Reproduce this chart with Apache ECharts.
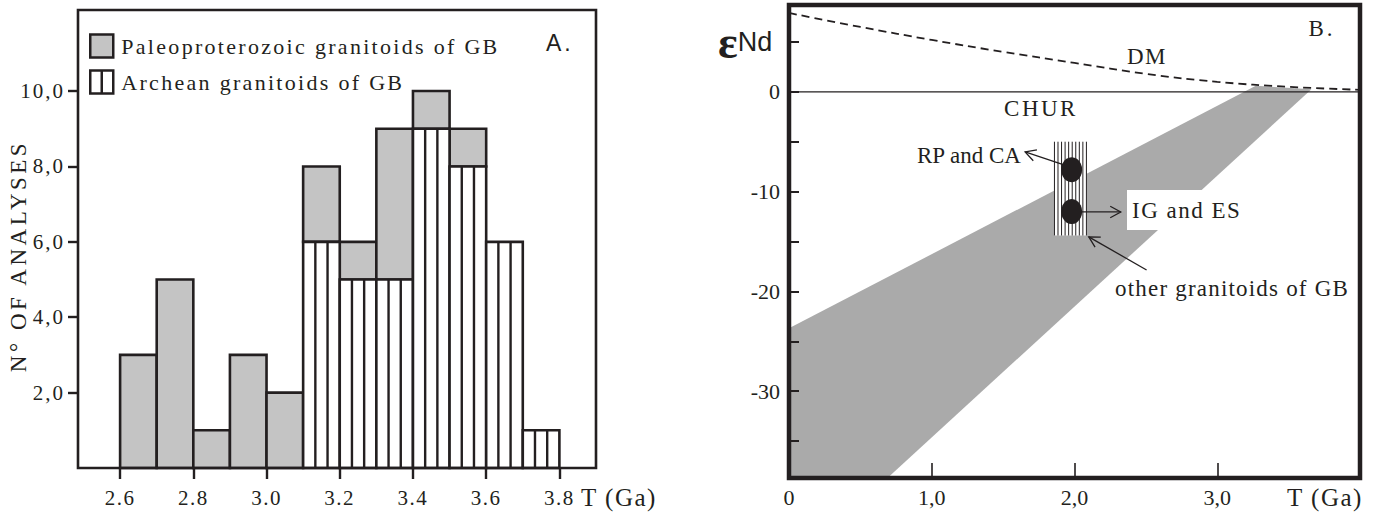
<!DOCTYPE html>
<html>
<head>
<meta charset="utf-8">
<title>GB granitoids: age histogram and eNd evolution</title>
<script src="https://cdn.jsdelivr.net/npm/echarts@6.0.0/dist/echarts.min.js"></script>
<style>
  html, body { margin: 0; padding: 0; background: #fff; }
  #main { width: 1375px; height: 513px; }
  #main text { font-family: 'Liberation Serif', serif !important; }
  #main text[style*="Sans"] { font-family: 'Liberation Sans', sans-serif !important; }
  /* the original figure is typeset with letter spacing; a dummy family name marks how much */
  #main text[style*="ls12"] { letter-spacing: 1.2px; }
  #main text[style*="ls15"] { letter-spacing: 1.5px; }
  #main text[style*="ls20"] { letter-spacing: 2px; }
  #main text[style*="ls23"] { letter-spacing: 2.3px; }
  #main text[style*="ls25"] { letter-spacing: 2.5px; }
  #main text[style*="ls30"] { letter-spacing: 3px; }
  #main text[style*="ls35"] { letter-spacing: 3.5px; }
</style>
</head>
<body>
<div id="main"></div>
<script>
// ---------- A. histogram of ages ----------
var binWidth = 0.1;
var binStart = [2.6, 2.7, 2.8, 2.9, 3.0, 3.1, 3.2, 3.3, 3.4, 3.5, 3.6, 3.7];
var paleoCounts = [3, 5, 1, 3, 2, 2, 1, 4, 1, 1, 0, 0];
var archeanCounts = [0, 0, 0, 0, 0, 6, 5, 5, 9, 8, 6, 1];
var countTicks = [2, 4, 6, 8, 10];
var ageTicksA = [2.6, 2.8, 3.0, 3.2, 3.4, 3.6, 3.8];

// ---------- B. eNd versus T ----------
var dmAge = [0, 0.5, 1.0, 1.5, 2.0, 2.5, 3.0, 3.5, 4.0];
var dmEps = [7.9, 6.5, 5.2, 4.0, 2.9, 1.8, 1.0, 0.5, 0.2];
var churAge = [0, 4];
var churEps = [0, 0];
var bandAge = [0, 3.27, 3.66, 0.69, 0];
var bandEps = [-23.7, 0.6, 0.25, -38.7, -38.7];
var columnAge = [1.856, 2.087];
var columnEps = [-5.0, -14.4];
var dotAge = [1.98, 1.98];
var dotEps = [-7.8, -12.0];
// pointer arrows: [fromAge, fromEps, toAge, toEps]
var arrows = [
  [1.926, -7.32, 1.654, -6.02],
  [2.052, -12.04, 2.324, -12.04],
  [2.505, -17.85, 2.10, -14.54]
];
var epsTicks = [-35, -30, -25, -20, -15, -10, -5, 0, 5];
var epsLabels = [-30, -20, -10, 0];
var ageTicksB = [1, 2, 3];
var ageLabelsB = [0, 1, 2, 3];

var INK = '#231f20';
var GRAY_A = '#c4c4c4';
var GRAY_B = '#aaaaaa';
var SERIF = 'Liberation Serif';

function serif(mark) { return mark ? SERIF + ', ' + mark : SERIF; }
function comma(v) { return v.toFixed(1).replace('.', ','); }

var chart = echarts.init(document.getElementById('main'), null, { renderer: 'svg' });

var option = {
  animation: false,
  backgroundColor: '#fff',
  grid: [
    { left: 78, top: 10, width: 518, height: 458, show: true, z: 5,
      backgroundColor: 'transparent', borderColor: INK, borderWidth: 2.6 },
    { left: 789, top: 5, width: 571, height: 473, show: true, z: 5,
      backgroundColor: 'transparent', borderColor: INK, borderWidth: 4.5 }
  ],
  legend: {
    left: 89, top: 31, orient: 'vertical', padding: 0,
    itemWidth: 23, itemHeight: 23, itemGap: 6,
    selectedMode: false,
    textStyle: { color: INK, fontSize: 22, lineHeight: 22, fontFamily: serif('ls23'), padding: [8, 0, 0, 3] },
    data: [
      { name: 'Paleoproterozoic granitoids of GB', icon: 'rect',
        itemStyle: { color: GRAY_A, borderColor: INK, borderWidth: 2.5 } },
      { name: 'Archean granitoids of GB', icon: 'path://M0 0H24V24H0ZM12 0V24',
        itemStyle: { color: '#fff', borderColor: INK, borderWidth: 2.5 } }
    ]
  },
  xAxis: [
    { type: 'value', gridIndex: 0, min: 2.485, max: 3.9, z: 6,
      axisLine: { show: false, onZero: false }, splitLine: { show: false },
      axisTick: { customValues: ageTicksA, length: 11, lineStyle: { color: INK, width: 2.4 } },
      axisLabel: { customValues: ageTicksA, margin: 19, color: INK, fontSize: 21, fontFamily: serif('ls15'),
        formatter: function (v) { return v.toFixed(1); } } },
    { type: 'value', gridIndex: 1, min: 0, max: 4, z: 6,
      axisLine: { show: false, onZero: false }, splitLine: { show: false },
      axisTick: { customValues: ageTicksB, inside: true, length: 15, lineStyle: { color: INK, width: 1.6 } },
      axisLabel: { customValues: ageLabelsB, margin: 8, color: INK, fontSize: 22, fontFamily: serif(),
        formatter: function (v) { return v === 0 ? '0' : comma(v); } } }
  ],
  yAxis: [
    { type: 'value', gridIndex: 0, min: 0, max: 12.15, z: 6,
      axisLine: { show: false, onZero: false }, splitLine: { show: false },
      axisTick: { customValues: countTicks, length: 10, lineStyle: { color: INK, width: 2.4 } },
      axisLabel: { customValues: countTicks, margin: 13, color: INK, fontSize: 21, fontFamily: serif('ls20'),
        formatter: comma } },
    { type: 'value', gridIndex: 1, min: -38.7, max: 8.7, z: 6,
      axisLine: { show: false, onZero: false }, splitLine: { show: false },
      axisTick: { customValues: epsTicks, inside: true, length: 10, lineStyle: { color: INK, width: 2 } },
      axisLabel: { customValues: epsLabels, margin: 9, color: INK, fontSize: 22, fontFamily: serif(),
        formatter: function (v) { return String(v); } } }
  ],
  series: [
    // Paleoproterozoic part, stacked on top of the Archean part
    {
      name: 'Paleoproterozoic granitoids of GB',
      type: 'custom', xAxisIndex: 0, yAxisIndex: 0, z: 2,
      data: binStart.map(function (b, i) { return [b, archeanCounts[i], archeanCounts[i] + paleoCounts[i]]; }),
      renderItem: function (params, api) {
        var lo = api.value(1), hi = api.value(2);
        if (hi <= lo) return null;
        var a = api.coord([api.value(0), hi]);
        var b = api.coord([api.value(0) + binWidth, lo]);
        return {
          type: 'rect',
          shape: { x: a[0], y: a[1], width: b[0] - a[0], height: b[1] - a[1] },
          style: { fill: GRAY_A, stroke: INK, lineWidth: 2.6 }
        };
      }
    },
    // Archean part, white with vertical hatching
    {
      name: 'Archean granitoids of GB',
      type: 'custom', xAxisIndex: 0, yAxisIndex: 0, z: 2,
      data: binStart.map(function (b, i) { return [b, archeanCounts[i]]; }),
      renderItem: function (params, api) {
        var n = api.value(1);
        if (!n) return null;
        var a = api.coord([api.value(0), n]);
        var b = api.coord([api.value(0) + binWidth, 0]);
        var w = b[0] - a[0];
        var kids = [{
          type: 'rect',
          shape: { x: a[0], y: a[1], width: w, height: b[1] - a[1] },
          style: { fill: '#fff', stroke: INK, lineWidth: 2.6 }
        }];
        for (var k = 1; k < 3; k++) {
          var x = a[0] + w * k / 3;
          kids.push({ type: 'line', shape: { x1: x, y1: a[1], x2: x, y2: b[1] },
            style: { stroke: INK, lineWidth: 2.4 } });
        }
        return { type: 'group', children: kids };
      }
    },
    // grey field of the granitoid evolution lines
    {
      type: 'custom', xAxisIndex: 1, yAxisIndex: 1, z: 1, silent: true,
      data: [[0]],
      renderItem: function (params, api) {
        var pts = bandAge.map(function (t, i) { return api.coord([t, bandEps[i]]); });
        return { type: 'polygon', shape: { points: pts }, style: { fill: GRAY_B } };
      }
    },
    {
      name: 'CHUR', type: 'line', xAxisIndex: 1, yAxisIndex: 1, z: 3, symbol: 'none',
      data: churAge.map(function (t, i) { return [t, churEps[i]]; }),
      lineStyle: { color: INK, width: 1.3 }
    },
    {
      name: 'DM', type: 'line', xAxisIndex: 1, yAxisIndex: 1, z: 3, symbol: 'none', smooth: 0.4,
      data: dmAge.map(function (t, i) { return [t, dmEps[i]]; }),
      lineStyle: { color: INK, width: 1.8, type: [8, 5] }
    },
    // hatched column of the studied samples
    {
      type: 'custom', xAxisIndex: 1, yAxisIndex: 1, z: 3, silent: true,
      data: [[0]],
      renderItem: function (params, api) {
        var a = api.coord([columnAge[0], columnEps[0]]);
        var b = api.coord([columnAge[1], columnEps[1]]);
        var kids = [{ type: 'rect', shape: { x: a[0], y: a[1], width: b[0] - a[0], height: b[1] - a[1] },
          style: { fill: '#fff' } }];
        var n = 9;
        for (var k = 0; k <= n; k++) {
          var x = a[0] + 0.5 + (b[0] - a[0] - 1) * k / n;
          kids.push({ type: 'line', shape: { x1: x, y1: a[1], x2: x, y2: b[1] },
            style: { stroke: INK, lineWidth: 1 } });
        }
        return { type: 'group', children: kids };
      }
    },
    {
      type: 'scatter', xAxisIndex: 1, yAxisIndex: 1, z: 4, silent: true,
      symbol: 'circle', symbolSize: [21, 25],
      itemStyle: { color: INK, opacity: 1 },
      data: dotAge.map(function (t, i) { return [t, dotEps[i]]; })
    },
    // pointer arrows with open heads
    {
      type: 'custom', xAxisIndex: 1, yAxisIndex: 1, z: 4, silent: true,
      data: arrows,
      renderItem: function (params, api) {
        var p = api.coord([api.value(0), api.value(1)]);
        var q = api.coord([api.value(2), api.value(3)]);
        var ang = Math.atan2(q[1] - p[1], q[0] - p[0]);
        var len = 12, spread = 0.5;
        var h1 = [q[0] - len * Math.cos(ang - spread), q[1] - len * Math.sin(ang - spread)];
        var h2 = [q[0] - len * Math.cos(ang + spread), q[1] - len * Math.sin(ang + spread)];
        return {
          type: 'group',
          children: [
            { type: 'line', shape: { x1: p[0], y1: p[1], x2: q[0], y2: q[1] }, style: { stroke: INK, lineWidth: 1.3 } },
            { type: 'polyline', shape: { points: [h1, q, h2] }, style: { stroke: INK, lineWidth: 1.3, fill: null } }
          ]
        };
      }
    }
  ],
  graphic: [
    { type: 'text', x: 18, y: 256, rotation: Math.PI / 2,
      style: { text: 'N° OF ANALYSES', fill: INK, fontSize: 23, fontFamily: serif('ls35'), align: 'center', verticalAlign: 'middle' } },
    { type: 'text', x: 546, y: 43,
      style: { text: 'A.', fill: INK, fontSize: 23, fontFamily: 'Liberation Sans, ls30', align: 'left', verticalAlign: 'middle' } },
    { type: 'text', x: 581, y: 497,
      style: { text: 'T (Ga)', fill: INK, fontSize: 25, fontFamily: serif('ls15'), align: 'left', verticalAlign: 'middle' } },
    { type: 'text', x: 718, y: 42,
      style: { text: '{e|ε}{n|Nd}', align: 'left', verticalAlign: 'middle',
        rich: {
          e: { fill: INK, fontSize: 46, fontWeight: 'bold', fontFamily: SERIF },
          n: { fill: INK, fontSize: 27, fontFamily: 'Liberation Sans' }
        } } },
    { type: 'text', x: 1322, y: 28,
      style: { text: 'B.', fill: INK, fontSize: 23, fontFamily: serif('ls30'), align: 'center', verticalAlign: 'middle' } },
    { type: 'text', x: 1147, y: 56,
      style: { text: 'DM', fill: INK, fontSize: 23, fontFamily: serif('ls15'), align: 'center', verticalAlign: 'middle' } },
    { type: 'text', x: 1041, y: 108,
      style: { text: 'CHUR', fill: INK, fontSize: 23, fontFamily: serif('ls25'), align: 'center', verticalAlign: 'middle' } },
    { type: 'text', x: 917, y: 155,
      style: { text: 'RP and CA', fill: INK, fontSize: 23, fontFamily: serif(), align: 'left', verticalAlign: 'middle' } },
    // white knock-out behind the IG and ES label
    { type: 'rect', z: 10, shape: { x: 1127, y: 190, width: 80, height: 40 }, style: { fill: '#fff' } },
    { type: 'text', z: 11, x: 1132, y: 210,
      style: { text: 'IG and ES', fill: INK, fontSize: 23, fontFamily: serif('ls15'), align: 'left', verticalAlign: 'middle' } },
    { type: 'text', x: 1115, y: 288,
      style: { text: 'other granitoids of GB', fill: INK, fontSize: 23, fontFamily: serif('ls12'), align: 'left', verticalAlign: 'middle' } },
    { type: 'text', x: 1287, y: 497,
      style: { text: 'T (Ga)', fill: INK, fontSize: 25, fontFamily: serif('ls15'), align: 'left', verticalAlign: 'middle' } }
  ]
};

chart.setOption(option);
</script>
</body>
</html>
